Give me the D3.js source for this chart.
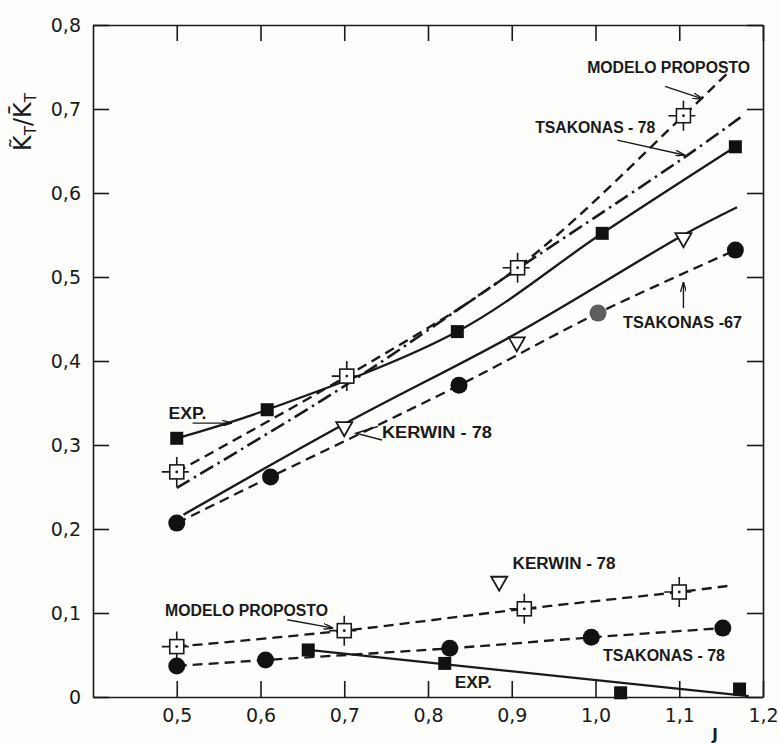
<!DOCTYPE html>
<html>
<head>
<meta charset="utf-8">
<script src="https://cdn.jsdelivr.net/npm/d3@7"></script>
<style>
  body { margin: 0; background: #fdfdfb; }
  text { font-family: "DejaVu Sans", sans-serif; fill: #1a1a1a; }
</style>
</head>
<body>
<script>
// values: KT~/KT- against J
const xTicks = [0.5, 0.6, 0.7, 0.8, 0.9, 1.0, 1.1, 1.2];
const yTicks = [0, 0.1, 0.2, 0.3, 0.4, 0.5, 0.6, 0.7, 0.8];

// upper family
const modeloUpJ = [0.5, 0.703, 0.907, 1.105];
const modeloUpK = [0.268, 0.382, 0.511, 0.692];
const modeloUpLineJ = [0.5, 0.703, 0.907, 1.105, 1.16];
const modeloUpLineK = [0.268, 0.382, 0.511, 0.692, 0.745];

const tsak78UpJ = [0.5, 0.7, 0.9, 1.107, 1.173];
const tsak78UpK = [0.249, 0.37, 0.505, 0.643, 0.69];

const expUpJ = [0.5, 0.608, 0.835, 1.008, 1.167];
const expUpK = [0.308, 0.342, 0.435, 0.552, 0.655];

const kerwinUpJ = [0.7, 0.906, 1.105];
const kerwinUpK = [0.32, 0.421, 0.545];
const kerwinUpLineJ = [0.508, 0.7, 0.906, 1.105, 1.169];
const kerwinUpLineK = [0.217, 0.325, 0.433, 0.55, 0.583];

const tsak67J = [0.5, 0.612, 0.837, 1.003, 1.167];
const tsak67K = [0.207, 0.262, 0.371, 0.457, 0.532];
const tsak67Gray = 3;

// lower family
const modeloLoJ = [0.5, 0.7, 0.915, 1.1];
const modeloLoK = [0.06, 0.079, 0.105, 0.125];
const modeloLoLineJ = [0.5, 0.7, 0.915, 1.1, 1.164];
const modeloLoLineK = [0.06, 0.079, 0.105, 0.125, 0.133];

const tsak78LoJ = [0.5, 0.606, 0.826, 0.995, 1.152];
const tsak78LoK = [0.037, 0.044, 0.058, 0.071, 0.082];

const expLoJ = [0.657, 0.82, 1.03, 1.172];
const expLoK = [0.056, 0.04, 0.005, 0.0095];
const expLoLineJ = [0.657, 1.183];
const expLoLineK = [0.056, 0.001];

const kerwinLoJ = [0.885];
const kerwinLoK = [0.136];

// labels, anchored in data units
const labels = [
  {t: "MODELO PROPOSTO", j: 0.990, k: 0.743, w: 163},
  {t: "TSAKONAS - 78",   j: 0.928, k: 0.671, w: 120},
  {t: "EXP.",            j: 0.490, k: 0.331, w: 38},
  {t: "KERWIN - 78",     j: 0.745, k: 0.308, w: 110},
  {t: "TSAKONAS -67",    j: 1.033, k: 0.439, w: 119},
  {t: "MODELO PROPOSTO", j: 0.486, k: 0.096, w: 163},
  {t: "KERWIN - 78",     j: 0.901, k: 0.152, w: 103},
  {t: "TSAKONAS - 78",   j: 1.009, k: 0.043, w: 122},
  {t: "EXP.",            j: 0.832, k: 0.011, w: 37}
];
const arrows = [
  [[1.083, 0.727], [1.128, 0.712]],
  [[1.026, 0.663], [1.107, 0.645]],
  [[1.105, 0.463], [1.105, 0.494]],
  [[0.519, 0.326], [0.566, 0.326]],
  [[0.632, 0.092], [0.687, 0.082]]
];
const kerwinWedge = [[0.740, 0.322], [0.714, 0.314], [0.745, 0.306]];

const ink = "#1a1a1a";
const width = 779, height = 743;

const svg = d3.select("body").append("svg").attr("width", width).attr("height", height);

const x = d3.scaleLinear().domain([0.4, 1.2]).range([93, 763]);
const y = d3.scaleLinear().domain([0, 0.8]).range([697, 25]);
const fmt = d => d === 0 ? "0" : d3.format(".1f")(d).replace(".", ",");

svg.append("defs").append("marker")
  .attr("id", "head").attr("viewBox", "0 0 10 6").attr("refX", 10).attr("refY", 3)
  .attr("markerWidth", 10).attr("markerHeight", 6).attr("markerUnits", "userSpaceOnUse")
  .attr("orient", "auto")
  .append("path").attr("d", "M0,0L10,3L0,6").attr("fill", "none").attr("stroke", ink).attr("stroke-width", 1.3);

// frame and ticks (all ticks point inward)
const axes = [
  svg.append("g").attr("transform", `translate(0,${y(0)})`)
    .call(d3.axisBottom(x).tickValues(xTicks).tickFormat(fmt).tickSize(-16).tickSizeOuter(0).tickPadding(12)),
  svg.append("g").attr("transform", `translate(${x(0.4)},0)`)
    .call(d3.axisLeft(y).tickValues(yTicks).tickFormat(fmt).tickSize(-16).tickSizeOuter(0).tickPadding(12)),
  svg.append("g").attr("transform", `translate(0,${y(0.8)})`)
    .call(d3.axisTop(x).tickValues(xTicks).tickFormat("").tickSize(-16).tickSizeOuter(0)),
  svg.append("g").attr("transform", `translate(${x(1.2)},0)`)
    .call(d3.axisRight(y).tickValues(yTicks).tickFormat("").tickSize(-16).tickSizeOuter(0))
];
axes.forEach(g => {
  g.select(".domain").attr("stroke", ink).attr("stroke-width", 1.6);
  g.selectAll(".tick line").attr("stroke", ink).attr("stroke-width", 1.6);
  g.selectAll(".tick text").style("font-size", "19px").attr("fill", ink);
});

// y title
const yt = svg.append("text").attr("transform", "translate(31,122) rotate(-90)")
  .attr("text-anchor", "middle").style("font-size", "24px");
yt.append("tspan").text("K\u0303");
yt.append("tspan").text("T").attr("dy", 5).style("font-size", "15px");
yt.append("tspan").text("/K\u0304").attr("dy", -5);
yt.append("tspan").text("T").attr("dy", 5).style("font-size", "15px");

// x title, just above the lower edge
svg.append("text").attr("x", 715).attr("y", 740).attr("text-anchor", "middle")
  .style("font-size", "15px").style("font-weight", "bold").text("J");

// curves
const line = d3.line().x(d => x(d[0])).y(d => y(d[1])).curve(d3.curveCatmullRom);
function drawLine(J, K, dash, w) {
  svg.append("path").datum(d3.zip(J, K)).attr("d", line)
    .attr("fill", "none").attr("stroke", ink).attr("stroke-width", w)
    .attr("stroke-dasharray", dash);
}
drawLine(modeloUpLineJ, modeloUpLineK, "10,6", 2.4);
drawLine(tsak78UpJ, tsak78UpK, "15,5,2.5,5", 2.6);
drawLine(expUpJ, expUpK, null, 2.3);
drawLine(kerwinUpLineJ, kerwinUpLineK, null, 2.4);
drawLine(tsak67J, tsak67K, "10,6", 2.3);
drawLine(modeloLoLineJ, modeloLoLineK, "10,6", 2.3);
drawLine(tsak78LoJ, tsak78LoK, "10,6", 2.3);
drawLine(expLoLineJ, expLoLineK, null, 2.3);

// markers
function openSquares(J, K) {
  const g = svg.append("g").selectAll("g").data(d3.zip(J, K)).join("g")
    .attr("transform", d => `translate(${x(d[0])},${y(d[1])})`);
  g.append("rect").attr("x", -7).attr("y", -7).attr("width", 14).attr("height", 14)
    .attr("fill", "#fff").attr("stroke", ink).attr("stroke-width", 1.6);
  g.append("circle").attr("r", 1.4).attr("fill", ink);
  g.append("path").attr("d", "M0,-7V-15M0,7V15M-7,0H-15M7,0H12")
    .attr("stroke", ink).attr("stroke-width", 1.6);
}
function filledSquares(J, K) {
  svg.append("g").selectAll("rect").data(d3.zip(J, K)).join("rect")
    .attr("x", d => x(d[0]) - 6.5).attr("y", d => y(d[1]) - 6.5)
    .attr("width", 13).attr("height", 13).attr("fill", "#111");
}
function triangles(J, K) {
  svg.append("g").selectAll("path").data(d3.zip(J, K)).join("path")
    .attr("transform", d => `translate(${x(d[0])},${y(d[1])})`)
    .attr("d", "M-8,-6H8L0,8Z")
    .attr("fill", "#fff").attr("stroke", ink).attr("stroke-width", 1.8);
}
function dots(J, K, gray) {
  svg.append("g").selectAll("circle").data(d3.zip(J, K)).join("circle")
    .attr("cx", d => x(d[0])).attr("cy", d => y(d[1])).attr("r", 8.5)
    .attr("fill", (d, i) => i === gray ? "#5e5e5e" : "#111");
}
openSquares(modeloUpJ, modeloUpK);
filledSquares(expUpJ, expUpK);
triangles(kerwinUpJ, kerwinUpK);
dots(tsak67J, tsak67K, tsak67Gray);
openSquares(modeloLoJ, modeloLoK);
dots(tsak78LoJ, tsak78LoK, -1);
filledSquares(expLoJ, expLoK);
triangles(kerwinLoJ, kerwinLoK);

// annotations
svg.append("g").selectAll("text").data(labels).join("text")
  .attr("x", d => x(d.j)).attr("y", d => y(d.k))
  .attr("textLength", d => d.w).attr("lengthAdjust", "spacingAndGlyphs")
  .style("font-family", "'Liberation Sans', Arial, sans-serif")
  .style("font-size", "16px").style("font-weight", "bold")
  .text(d => d.t);
svg.append("g").selectAll("line").data(arrows).join("line")
  .attr("x1", d => x(d[0][0])).attr("y1", d => y(d[0][1]))
  .attr("x2", d => x(d[1][0])).attr("y2", d => y(d[1][1]))
  .attr("stroke", ink).attr("stroke-width", 1.4).attr("marker-end", "url(#head)");
svg.append("path").datum(kerwinWedge)
  .attr("d", d3.line().x(d => x(d[0])).y(d => y(d[1])))
  .attr("fill", "none").attr("stroke", ink).attr("stroke-width", 1.4);
</script>
</body>
</html>
